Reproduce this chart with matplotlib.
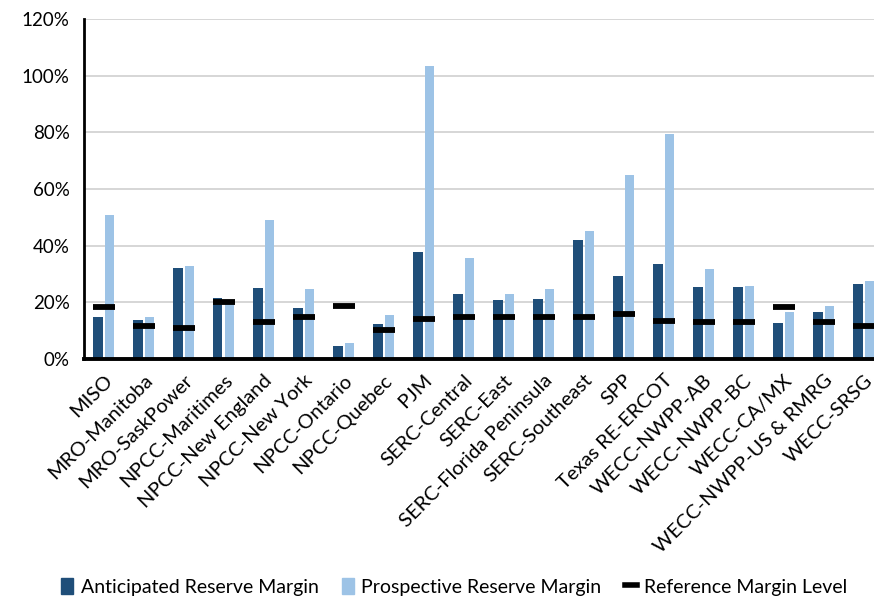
import numpy as np
import matplotlib.pyplot as plt
from matplotlib.ticker import PercentFormatter
from matplotlib.lines import Line2D
from matplotlib.patches import Patch

regions = ['MISO', 'MRO-Manitoba', 'MRO-SaskPower', 'NPCC-Maritimes',
           'NPCC-New England', 'NPCC-New York', 'NPCC-Ontario', 'NPCC-Quebec',
           'PJM', 'SERC-Central', 'SERC-East', 'SERC-Florida Peninsula',
           'SERC-Southeast', 'SPP', 'Texas RE-ERCOT', 'WECC-NWPP-AB',
           'WECC-NWPP-BC', 'WECC-CA/MX', 'WECC-NWPP-US & RMRG', 'WECC-SRSG']
anticipated = [14.9, 13.8, 32.1, 21.6, 24.9, 17.9, 4.6, 12.5, 37.8, 22.9,
               20.8, 21.2, 42.1, 29.3, 33.6, 25.3, 25.3, 12.8, 16.5, 26.6]
prospective = [51.0, 14.9, 32.9, 19.8, 49.2, 24.6, 5.8, 15.5, 103.3, 35.8,
               22.9, 24.6, 45.3, 64.8, 79.3, 31.8, 25.6, 16.5, 18.6, 27.6]
reference = [18.2, 11.8, 10.8, 20.0, 13.2, 14.9, 18.6, 10.4, 14.1, 14.9,
             14.9, 14.9, 14.9, 15.9, 13.5, 13.2, 13.2, 18.2, 13.2, 11.8]

dark = '#1f4e79'
light = '#9dc3e6'

plt.rcParams['font.family'] = ['Lato', 'DejaVu Sans']

fig = plt.figure(figsize=(8.74, 5.97), dpi=100)
ax = fig.add_axes([83.5 / 874, 238 / 597, 800 / 874, 340 / 597])

x = np.arange(len(regions))
w = 0.23
ax.bar(x - 0.14, anticipated, w, color=dark, zorder=2)
ax.bar(x + 0.14, prospective, w, color=light, zorder=2)
ax.plot(x, reference, ls='none', marker='_', ms=15.5, mew=4.2,
        color='black', zorder=3)

ax.set_xlim(-0.5, len(regions) - 0.5)
ax.set_ylim(0, 120)
ax.set_yticks(range(0, 121, 20))
ax.yaxis.set_major_formatter(PercentFormatter(decimals=0))
ax.grid(axis='y', color='#d0d0d0', lw=1.2, zorder=0)
ax.set_axisbelow(True)

for s in ['top', 'right']:
    ax.spines[s].set_visible(False)
ax.spines['left'].set_linewidth(2)
ax.spines['bottom'].set_linewidth(2.8)
ax.spines['bottom'].set_zorder(4)

ax.tick_params(length=0, colors='black')
ax.tick_params(axis='y', pad=10, labelsize=13.5)
ax.tick_params(axis='x', pad=9, labelsize=14.5)
ax.set_xticks(x)
ax.set_xticklabels(regions, rotation=45, ha='right', rotation_mode='anchor')

handles = [Patch(color=dark), Patch(color=light),
           Line2D([], [], color='black', lw=4)]
labels = ['Anticipated Reserve Margin', 'Prospective Reserve Margin',
          'Reference Margin Level']
fig.legend(handles, labels, loc='center', bbox_to_anchor=(0.52, 0.017),
           ncol=3, frameon=False, fontsize=14, handlelength=0.6,
           handleheight=0.9, handletextpad=0.4, columnspacing=1.2)

fig.savefig('out.png', dpi=100)
